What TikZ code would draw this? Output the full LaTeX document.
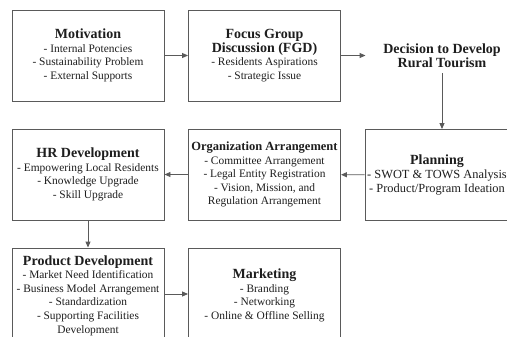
\documentclass[tikz,border=0pt]{standalone}
\usepackage{fontspec}
\setmainfont{Liberation Serif}[BoldFont={Liberation Serif Bold}]
\usetikzlibrary{arrows.meta, positioning}
\definecolor{framegray}{HTML}{5A5A5A}
\definecolor{inkdark}{HTML}{1E1E1E}

\newcommand{\stagehead}[1]{{\fontsize{14}{16}\selectfont\bfseries #1}}

\begin{document}
\begin{tikzpicture}[
  x=1pt, y=-1pt,
  stage/.style={draw=framegray, line width=0.9pt, fill=white, minimum width=152pt, minimum height=91pt, align=center, font=\fontsize{11.4}{13.6}\selectfont, text=inkdark, inner sep=1pt},
  flow/.style={-{Triangle[length=6pt, width=5pt]}, line width=0.9pt, framegray}
]
\useasboundingbox (0,0) rectangle (507,337);
\clip (0,0) rectangle (507,337);

% Top row
\node[stage] (motiv) at (88,55.5) {\stagehead{Motivation}\\ - Internal Potencies\\ - Sustainability Problem\\ - External Supports};
\node[stage] (fgd) at (264.5,55.5) {\stagehead{Focus Group}\\ \stagehead{Discussion (FGD)}\\ - Residents Aspirations\\ - Strategic Issue};
\node[stage, draw=none, minimum height=35pt] (decide) at (442,55.5) {\stagehead{Decision to Develop}\\ \stagehead{Rural Tourism}};

% Middle row
\node[stage, minimum width=144pt, font=\fontsize{12.4}{14}\selectfont] (plan) at (437,175) {\stagehead{Planning}\\ - SWOT \& TOWS Analysis\\ - Product/Program Ideation};
\node[stage] (org) at (264.5,174.5) {{\fontsize{12.5}{14}\selectfont\bfseries Organization Arrangement}\\ - Committee Arrangement\\ - Legal Entity Registration\\ - Vision, Mission, and\\ Regulation Arrangement};
\node[stage] (hrd) at (88,174.5) {\stagehead{HR Development}\\ - Empowering Local Residents\\ - Knowledge Upgrade\\ - Skill Upgrade};

% Bottom row
\node[stage, minimum height=95pt] (prod) at (88,295.5) {\stagehead{Product Development}\\ - Market Need Identification\\ - Business Model Arrangement\\ - Standardization\\ - Supporting Facilities\\ Development};
\node[stage, minimum height=95pt] (market) at (264.5,295.5) {\stagehead{Marketing}\\ - Branding\\ - Networking\\ - Online \& Offline Selling};

% Connectors
\draw[flow] (motiv) -- (fgd);
\draw[flow] (fgd) -- (decide);
\draw[flow] (decide.south) -- (decide.south |- plan.north);
\draw[flow] (plan) -- (org);
\draw[flow] (org) -- (hrd);
\draw[flow] (hrd) -- (prod);
\draw[flow] (prod.east |- 0,294) -- (market.west |- 0,294);

\end{tikzpicture}
\end{document}
